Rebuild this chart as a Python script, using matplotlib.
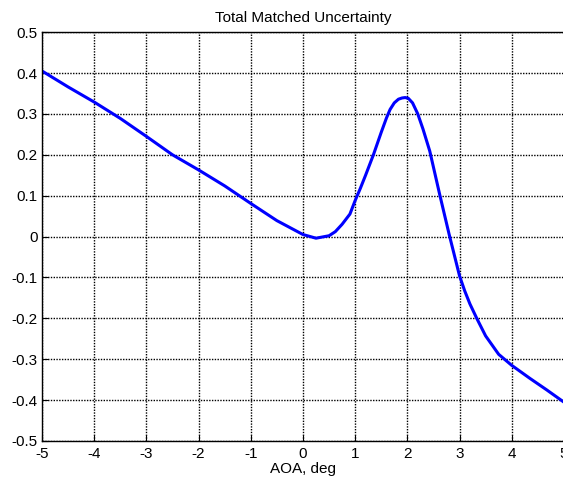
import numpy as np
import matplotlib
matplotlib.use("Agg")
import matplotlib.pyplot as plt

# Values
aoa = [-5, -4.5, -4, -3.5, -3, -2.5, -2, -1.5, -1, -0.5, 0, 0.25, 0.5, 0.62,
       0.75, 0.9, 1.0, 1.1, 1.2, 1.35, 1.5, 1.6, 1.67, 1.75, 1.83, 1.9, 1.96,
       2.02, 2.1, 2.2, 2.3, 2.43, 2.62, 2.8, 2.9, 3.0, 3.1, 3.2, 3.33, 3.5,
       3.75, 4.0, 4.35, 4.67, 5.0]
uncert = [0.405, 0.366, 0.329, 0.289, 0.245, 0.200, 0.163, 0.124, 0.081,
          0.039, 0.005, -0.004, 0.002, 0.012, 0.030, 0.055, 0.088, 0.118,
          0.150, 0.200, 0.255, 0.290, 0.311, 0.327, 0.336, 0.339, 0.340,
          0.338, 0.327, 0.300, 0.263, 0.209, 0.103, 0.006, -0.045, -0.096,
          -0.133, -0.165, -0.200, -0.243, -0.288, -0.315, -0.347, -0.375,
          -0.405]

xticks = np.arange(-5, 6, 1)
yticks = np.round(np.arange(-0.5, 0.51, 0.1), 1)

plt.rcParams['font.family'] = ['Liberation Sans', 'DejaVu Sans']

fig = plt.figure(figsize=(5.63, 4.87), dpi=100)
ax = fig.add_axes([0.0746, 0.0945, 0.927, 0.8395])

ax.plot(aoa, uncert, color='#0000ff', linewidth=2.2)

ax.set_xlim(-5, 5)
ax.set_ylim(-0.5, 0.5)
ax.set_xticks(xticks)
ax.set_yticks(yticks)
ax.set_xticklabels([str(v) for v in xticks])
ax.set_yticklabels(['0' if v == 0 else str(v) for v in yticks])
ax.tick_params(direction='in', length=4, labelsize=11, color='black')
ax.tick_params(axis='x', pad=4)
ax.tick_params(axis='y', pad=3)
ax.grid(True, color='black', linestyle=(0, (1, 1)), linewidth=1.0)

for s in ax.spines.values():
    s.set_color('black')
    s.set_linewidth(1.0)

ax.set_title('Total Matched Uncertainty', fontsize=11, pad=7)
ax.set_xlabel('AOA, deg', fontsize=11, labelpad=1)

fig.savefig('out.png', dpi=100)
